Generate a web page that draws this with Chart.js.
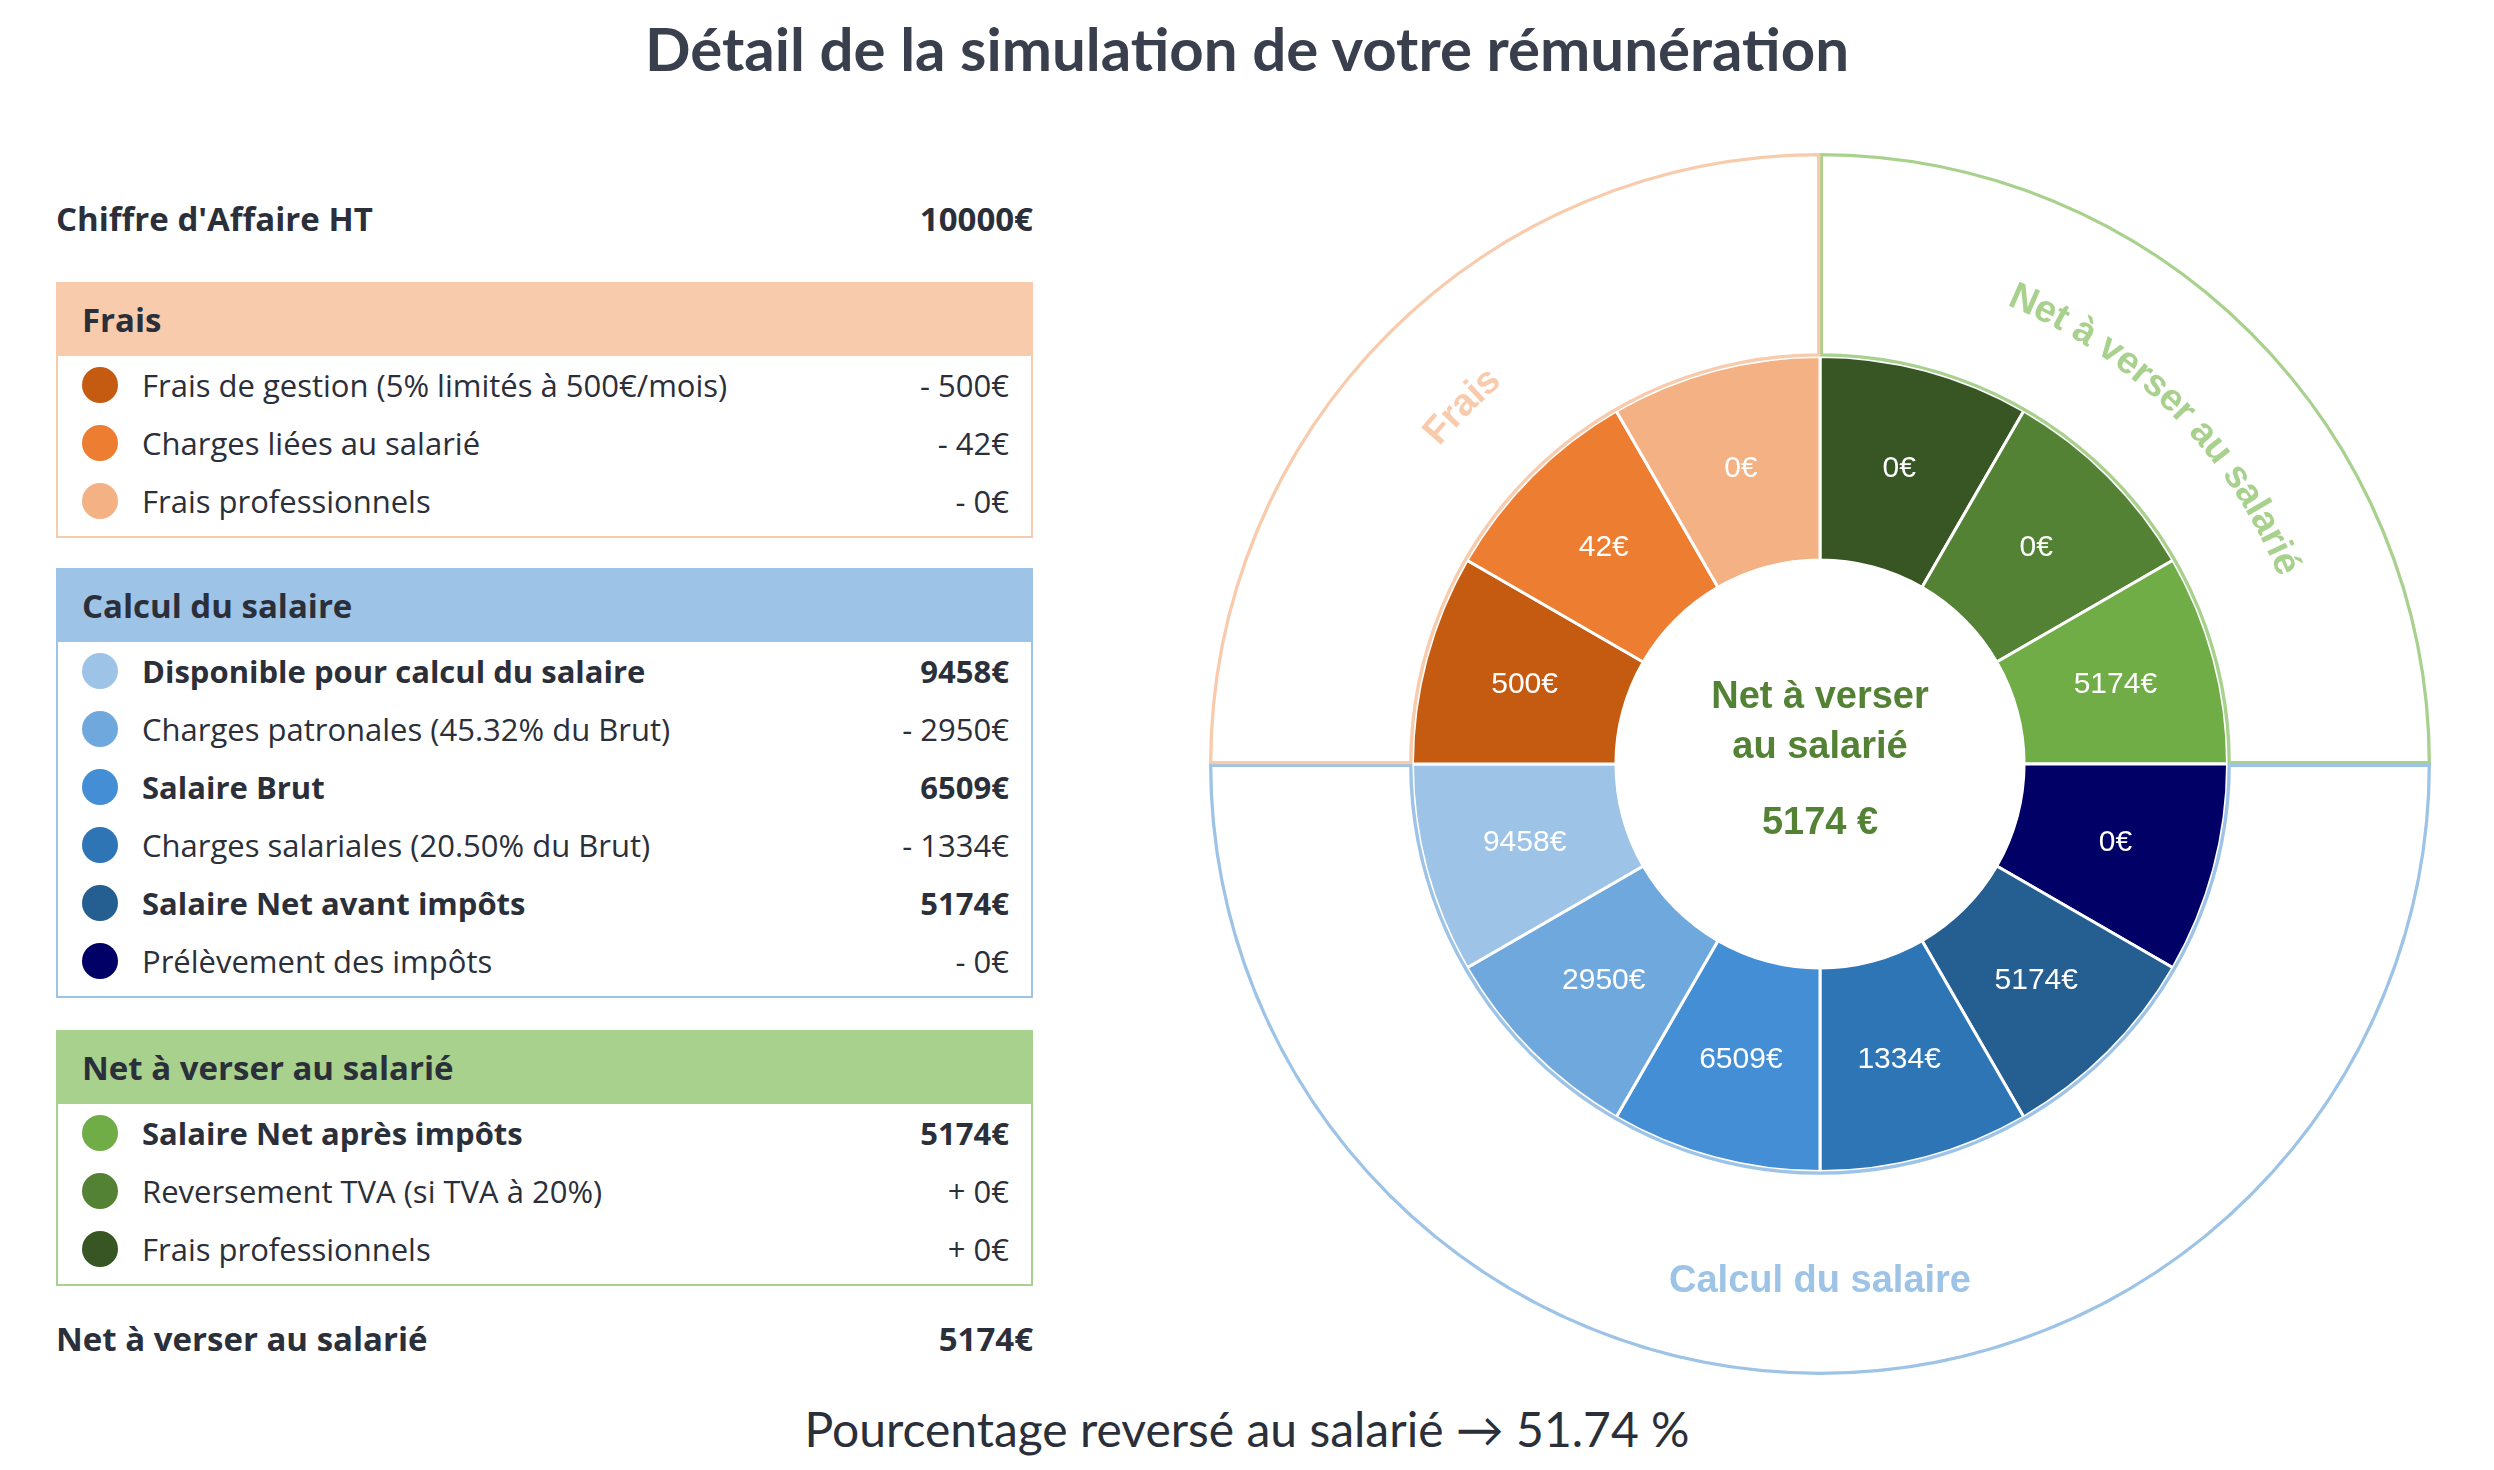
<!DOCTYPE html>
<html><head><meta charset="utf-8">
<script src="https://cdn.jsdelivr.net/npm/chart.js@4/dist/chart.umd.min.js"></script>
<style>
body{margin:0;width:2494px;height:1470px;background:#fff;font-family:"Open Sans",sans-serif;color:#2b2f3a;position:relative;overflow:hidden}
.abs{position:absolute}
h1{position:absolute;top:12px;left:0;width:2494px;text-align:center;margin:0;font-family:"Lato",sans-serif;font-weight:700;font-size:60px;color:#3a3f4d}
.box{position:absolute;left:56px;width:977px;box-sizing:border-box;border:2px solid}
.hdr{height:72px;line-height:72px;padding-left:24px;font-weight:700;font-size:33px}
.row{position:absolute;left:0;width:100%;height:58px;font-size:31px;line-height:58px}
.dot{position:absolute;left:24px;top:11px;width:36px;height:36px;border-radius:50%}
.lbl{position:absolute;left:84px}
.val{position:absolute;right:22px}
.big{position:absolute;font-weight:700;font-size:33px}
</style></head><body>
<h1>Détail de la simulation de votre rémunération</h1>
<div class="big" style="left:56px;top:196px">Chiffre d'Affaire HT</div>
<div class="big" style="left:56px;top:196px;width:977px;text-align:right">10000€</div>
<div class="big" style="left:56px;top:1316px">Net à verser au salarié</div>
<div class="big" style="left:56px;top:1316px;width:977px;text-align:right">5174€</div>
<div id="boxes"></div>
<div class="abs" style="top:1400px;left:0;width:2494px;text-align:center;font-family:Lato,sans-serif;font-size:48px;color:#2b2f3a">Pourcentage reversé au salarié → 51.74 %</div>
<div class="abs" style="left:1170px;top:114px;width:1300px;height:1300px"><canvas id="c" width="1300" height="1300"></canvas></div>
<script>
// segment order: clockwise from 12 o'clock
const segLabels = ['Frais professionnels (net)', 'Reversement TVA', 'Salaire Net après impôts', 'Prélèvement des impôts', 'Salaire Net avant impôts', 'Charges salariales', 'Salaire Brut', 'Charges patronales', 'Disponible', 'Frais de gestion', 'Charges liées au salarié', 'Frais professionnels'];
const segValues = [0, 0, 5174, 0, 5174, 1334, 6509, 2950, 9458, 500, 42, 0];
const segColors = ['#375623', '#548235', '#70ad47', '#000066', '#255e91', '#2e75b6', '#448ed6', '#6fa8dc', '#9dc3e6', '#c55a11', '#ed7d31', '#f4b183'];
const groupNames = ['Net à verser au salarié', 'Calcul du salaire', 'Frais'];
const groupSpan = [3, 6, 3];
const groupColors = ['#a9d18e', '#9dc3e6', '#f8cbad'];

const fraisRows = [['Frais de gestion (5% limités à 500€/mois)', '- 500€', '#c55a11', 0], ['Charges liées au salarié', '- 42€', '#ed7d31', 0], ['Frais professionnels', '- 0€', '#f4b183', 0]];
const calcRows = [['Disponible pour calcul du salaire', '9458€', '#9dc3e6', 1], ['Charges patronales (45.32% du Brut)', '- 2950€', '#6fa8dc', 0], ['Salaire Brut', '6509€', '#448ed6', 1], ['Charges salariales (20.50% du Brut)', '- 1334€', '#2e75b6', 0], ['Salaire Net avant impôts', '5174€', '#255e91', 1], ['Prélèvement des impôts', '- 0€', '#000066', 0]];
const netRows = [['Salaire Net après impôts', '5174€', '#70ad47', 1], ['Reversement TVA (si TVA à 20%)', '+ 0€', '#548235', 0], ['Frais professionnels', '+ 0€', '#375623', 0]];

const boxes = [['Frais', fraisRows, '#f8cbad', 282], ['Calcul du salaire', calcRows, '#9dc3e6', 568], ['Net à verser au salarié', netRows, '#a9d18e', 1030]];
let html = '';
boxes.forEach(([t, rows, col, top]) => {
  html += `<div class="box" style="top:${top}px;border-color:${col};height:${72 + rows.length * 58 + 10}px"><div class="hdr" style="background:${col}">${t}</div>`;
  rows.forEach((r, i) => {
    html += `<div class="row" style="top:${72 + i * 58}px;font-weight:${r[3] ? 700 : 400}"><div class="dot" style="background:${r[2]}"></div><span class="lbl">${r[0]}</span><span class="val">${r[1]}</span></div>`;
  });
  html += '</div>';
});
document.getElementById('boxes').innerHTML = html;

const textPlugin = {
  id: 'texts',
  afterDraw(chart) {
    const ctx = chart.ctx;
    const inner = chart.getDatasetMeta(1);
    ctx.save();
    ctx.textAlign = 'center'; ctx.textBaseline = 'middle';
    ctx.font = '30px "Liberation Sans", Arial';
    ctx.fillStyle = '#fff';
    inner.data.forEach((arc, i) => {
      const p = arc.tooltipPosition();
      ctx.fillText(segValues[i] + '€', p.x, p.y);
    });
    const a0 = inner.data[0];
    const cx = a0.x, cy = a0.y;
    ctx.font = 'bold 38px "Liberation Sans", Arial';
    ctx.fillStyle = '#548235';
    ctx.fillText('Net à verser', cx, cy - 66);
    ctx.fillText('au salarié', cx, cy - 16);
    ctx.fillText(segValues[2] + ' €', cx, cy + 60);
    // outer labels
    const outer = chart.getDatasetMeta(0);
    const r = 506;
    outer.data.forEach((arc, i) => {
      ctx.fillStyle = groupColors[i];
      const mid = (arc.startAngle + arc.endAngle) / 2;
      const txt = groupNames[i];
      if (i === 1) { ctx.fillText(txt, cx, cy + r + 12); return; }
      const total = ctx.measureText(txt).width;
      let ang = mid - total / 2 / r;
      for (const ch of txt) {
        const w = ctx.measureText(ch).width;
        const a = ang + w / 2 / r;
        ctx.save();
        ctx.translate(cx + r * Math.cos(a), cy + r * Math.sin(a));
        ctx.rotate(a + Math.PI / 2);
        ctx.fillText(ch, 0, 0);
        ctx.restore();
        ang += w / r;
      }
    });
    ctx.restore();
  }
};

new Chart(document.getElementById('c'), {
  type: 'doughnut',
  data: {
    labels: segLabels,
    datasets: [
      { data: groupSpan, backgroundColor: '#fff', borderColor: groupColors, borderWidth: 3, borderAlign: 'inner' },
      { data: segLabels.map(() => 1), backgroundColor: segColors, borderColor: '#fff', borderWidth: 3 }
    ]
  },
  options: {
    responsive: false,
    animation: false,
    cutout: '33.4%',
    layout: { padding: 39 },
    plugins: { legend: { display: false }, tooltip: { enabled: false } }
  },
  plugins: [textPlugin]
});
</script>
</body></html>
